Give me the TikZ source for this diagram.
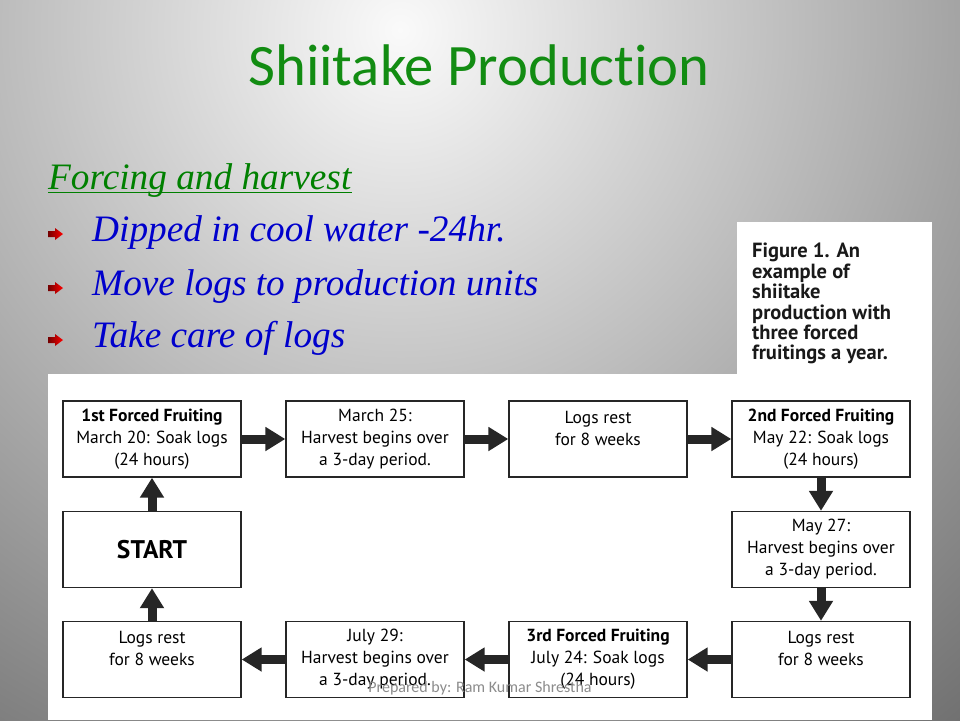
\documentclass[tikz,border=0pt]{standalone}
\usepackage{fontspec}
\setmainfont{Liberation Serif}
\newfontfamily\titlefont[Ligatures=NoCommon]{Carlito}
\newfontfamily\boxfont{PT Sans}
\usetikzlibrary{arrows.meta}
\definecolor{titlegreen}{RGB}{18,140,18}
\definecolor{headgreen}{RGB}{0,128,0}
\definecolor{itemblue}{RGB}{0,0,204}

\begin{document}
\begin{tikzpicture}
[x=1pt, y=-1pt,
stage/.style={rectangle, draw=black!85, line width=1.4pt, fill=white, inner sep=0pt, minimum width=178pt, minimum height=76pt, align=center, font=\boxfont\fontsize{17.5}{22}\selectfont},
flow/.style={draw=black!85, line width=9pt, -{Triangle[length=20pt, width=23pt]}},
item/.style={anchor=base west, inner sep=0pt, text=itemblue, font=\itshape\fontsize{37.3}{44}\selectfont},
marker/.style={left color=red!45!black, right color=red}
]

\useasboundingbox (0,0) rectangle (960,720);

% slide background
\begin{scope}
  \clip (0,0) rectangle (960,720);
  \shade[inner color=black!2, outer color=black!57] (400,30) circle (910pt);
\end{scope}

\fill[white] (737,222) rectangle (932,374);
\fill[white] (48,374) rectangle (932,720);

\node[anchor=base, inner sep=0pt, text=titlegreen, font=\titlefont\fontsize{58.7}{70}\selectfont] (title) at (479,85) {Shiitake Production};

\node[item, text=headgreen] (heading) at (48,189) {Forcing and harvest};
\draw[headgreen, line width=1.6pt] ([yshift=-3.5pt]heading.base west) -- ([yshift=-3.5pt]heading.base east);

\foreach \y/\t [count=\i] in {241/Dipped in cool water -24hr., 295/Move logs to production units, 347/Take care of logs} {
  \shade[marker] (48,\y-10) -- (55,\y-10) -- (55,\y-13) -- (63,\y-7) -- (55,\y-1) -- (55,\y-4) -- (48,\y-4) -- cycle;
  \node[item] (item\i) at (92,\y) {\t};
}

\node[anchor=north west, inner sep=0pt, align=left, text=black!90, font=\boxfont\bfseries\fontsize{20.5}{20.4}\selectfont] (caption) at (752,243) {Figure 1. An\\example of\\shiitake\\production with\\three forced\\fruitings a year.};

% flow chart
\node[stage] (f1) at (152,439) {\textbf{1st Forced Fruiting}\\March 20: Soak logs\\(24 hours)};
\node[stage] (h1) at (375,439) {March 25:\\Harvest begins over\\a 3-day period.};
\node[stage] (r1) at (598,439) {Logs rest\\for 8 weeks\\ \phantom{x}};
\node[stage] (f2) at (821,439) {\textbf{2nd Forced Fruiting}\\May 22: Soak logs\\(24 hours)};
\node[stage] (h2) at (821,549.5) {May 27:\\Harvest begins over\\a 3-day period.};
\node[stage] (r2) at (821,659.5) {Logs rest\\for 8 weeks\\ \phantom{x}};
\node[stage] (f3) at (598,659.5) {\textbf{3rd Forced Fruiting}\\July 24: Soak logs\\(24 hours)};
\node[stage] (h3) at (375,659.5) {July 29:\\Harvest begins over\\a 3-day period.};
\node[stage] (r3) at (152,659.5) {Logs rest\\for 8 weeks\\ \phantom{x}};
\node[stage, font=\boxfont\bfseries\fontsize{25.5}{28}\selectfont] (start) at (152,549.5) {START};

\foreach \a/\b in {start/f1, f1/h1, h1/r1, r1/f2, f2/h2, h2/r2, r2/f3, f3/h3, h3/r3, r3/start}
  \draw[flow] (\a) -- (\b);

\node[inner sep=0pt, text=black!45, font=\titlefont\fontsize{16}{18}\selectfont] (credit) at (480,688) {Prepared by: Ram Kumar Shrestha};

\end{tikzpicture}
\end{document}
